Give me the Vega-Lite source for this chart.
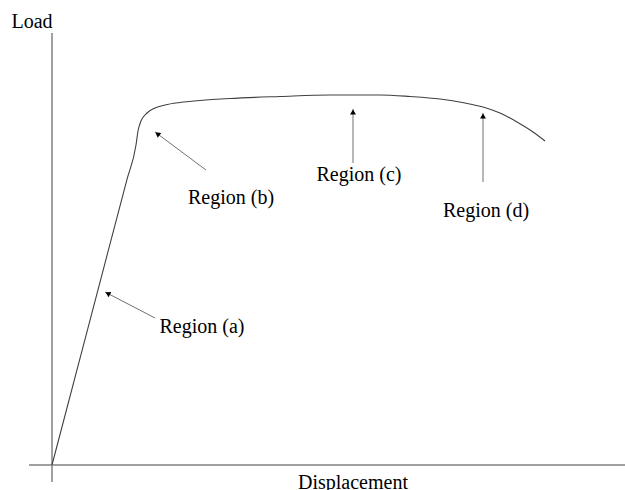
{
  "$schema": "https://vega.github.io/schema/vega-lite/v6.json",
  "width": 625,
  "height": 490,
  "padding": 0,
  "autosize": {"type": "none"},
  "config": {"view": {"stroke": null}},
  "datasets": {
    "curve": [
      {"d": 0, "load": 0},
      {"d": 0.56, "load": 2.667},
      {"d": 1.12, "load": 5.333},
      {"d": 1.5, "load": 7.143},
      {"d": 1.68, "load": 8.0},
      {"d": 1.72, "load": 8.35},
      {"d": 1.78, "load": 8.6},
      {"d": 1.90, "load": 8.8},
      {"d": 2.06, "load": 8.925},
      {"d": 2.26, "load": 9.0},
      {"d": 2.56, "load": 9.0625},
      {"d": 2.96, "load": 9.1125},
      {"d": 3.56, "load": 9.1625},
      {"d": 4.56, "load": 9.2125},
      {"d": 5.56, "load": 9.25},
      {"d": 6.56, "load": 9.25},
      {"d": 7.16, "load": 9.2125},
      {"d": 7.76, "load": 9.15},
      {"d": 8.26, "load": 9.05},
      {"d": 8.62, "load": 8.95},
      {"d": 8.96, "load": 8.8},
      {"d": 9.30, "load": 8.575},
      {"d": 9.62, "load": 8.325},
      {"d": 9.86, "load": 8.1}
    ],
    "axes": [
      {"x": 0, "y": -0.425, "x2": 0, "y2": 10.8},
      {"x": -0.46, "y": 0, "x2": 11.46, "y2": 0}
    ],
    "arrows": [
      {"region": "a", "tx": 2.06, "ty": 3.675, "hx": 1.06, "hy": 4.325, "cx": 1.114, "cy": 4.29},
      {"region": "b", "tx": 3.08, "ty": 7.375, "hx": 2.06, "hy": 8.325, "cx": 2.108, "cy": 8.28},
      {"region": "c", "tx": 6.02, "ty": 7.55, "hx": 6.02, "hy": 8.9, "cx": 6.02, "cy": 8.825},
      {"region": "d", "tx": 8.62, "ty": 7.075, "hx": 8.62, "hy": 8.8, "cx": 8.62, "cy": 8.725}
    ],
    "labels": [
      {"x": -0.4, "y": 10.925, "text": "Load"},
      {"x": 6.02, "y": -0.6, "text": "Displacement"},
      {"x": 3.0, "y": 3.3, "text": "Region (a)"},
      {"x": 3.58, "y": 6.525, "text": "Region (b)"},
      {"x": 6.14, "y": 7.1, "text": "Region (c)"},
      {"x": 8.68, "y": 6.2, "text": "Region (d)"}
    ]
  },
  "layer": [
    {
      "data": {"name": "axes"},
      "mark": {"type": "rule", "color": "#808080", "strokeWidth": 1.5},
      "encoding": {
        "x": {"field": "x", "type": "quantitative", "scale": {"domain": [-1.04, 11.46], "nice": false, "zero": false}, "axis": null},
        "y": {"field": "y", "type": "quantitative", "scale": {"domain": [-0.625, 11.625], "nice": false, "zero": false}, "axis": null},
        "x2": {"field": "x2"},
        "y2": {"field": "y2"}
      }
    },
    {
      "data": {"name": "curve"},
      "mark": {"type": "line", "color": "#404040", "strokeWidth": 1.1, "interpolate": "monotone"},
      "encoding": {
        "x": {"field": "d", "type": "quantitative", "scale": {"domain": [-1.04, 11.46], "nice": false, "zero": false}, "axis": null},
        "y": {"field": "load", "type": "quantitative", "scale": {"domain": [-0.625, 11.625], "nice": false, "zero": false}, "axis": null}
      }
    },
    {
      "data": {"name": "arrows"},
      "mark": {"type": "rule", "color": "#707070", "strokeWidth": 1},
      "encoding": {
        "x": {"field": "tx", "type": "quantitative", "scale": {"domain": [-1.04, 11.46], "nice": false, "zero": false}, "axis": null},
        "y": {"field": "ty", "type": "quantitative", "scale": {"domain": [-0.625, 11.625], "nice": false, "zero": false}, "axis": null},
        "x2": {"field": "hx"},
        "y2": {"field": "hy"}
      }
    },
    {
      "data": {"name": "arrows"},
      "transform": [{"filter": "datum.region === 'a'"}],
      "mark": {"type": "point", "shape": "triangle-up", "filled": true, "color": "#000000", "size": 35, "angle": 297.5, "opacity": 1},
      "encoding": {
        "x": {"field": "cx", "type": "quantitative", "scale": {"domain": [-1.04, 11.46], "nice": false, "zero": false}, "axis": null},
        "y": {"field": "cy", "type": "quantitative", "scale": {"domain": [-0.625, 11.625], "nice": false, "zero": false}, "axis": null}
      }
    },
    {
      "data": {"name": "arrows"},
      "transform": [{"filter": "datum.region === 'b'"}],
      "mark": {"type": "point", "shape": "triangle-up", "filled": true, "color": "#000000", "size": 35, "angle": 306.7, "opacity": 1},
      "encoding": {
        "x": {"field": "cx", "type": "quantitative", "scale": {"domain": [-1.04, 11.46], "nice": false, "zero": false}, "axis": null},
        "y": {"field": "cy", "type": "quantitative", "scale": {"domain": [-0.625, 11.625], "nice": false, "zero": false}, "axis": null}
      }
    },
    {
      "data": {"name": "arrows"},
      "transform": [{"filter": "datum.region === 'c' || datum.region === 'd'"}],
      "mark": {"type": "point", "shape": "triangle-up", "filled": true, "color": "#000000", "size": 35, "angle": 0, "opacity": 1},
      "encoding": {
        "x": {"field": "cx", "type": "quantitative", "scale": {"domain": [-1.04, 11.46], "nice": false, "zero": false}, "axis": null},
        "y": {"field": "cy", "type": "quantitative", "scale": {"domain": [-0.625, 11.625], "nice": false, "zero": false}, "axis": null}
      }
    },
    {
      "data": {"name": "labels"},
      "mark": {"type": "text", "font": "Liberation Serif", "fontSize": 20, "color": "#000000", "align": "center", "baseline": "alphabetic"},
      "encoding": {
        "x": {"field": "x", "type": "quantitative", "scale": {"domain": [-1.04, 11.46], "nice": false, "zero": false}, "axis": null},
        "y": {"field": "y", "type": "quantitative", "scale": {"domain": [-0.625, 11.625], "nice": false, "zero": false}, "axis": null},
        "text": {"field": "text"}
      }
    }
  ]
}
